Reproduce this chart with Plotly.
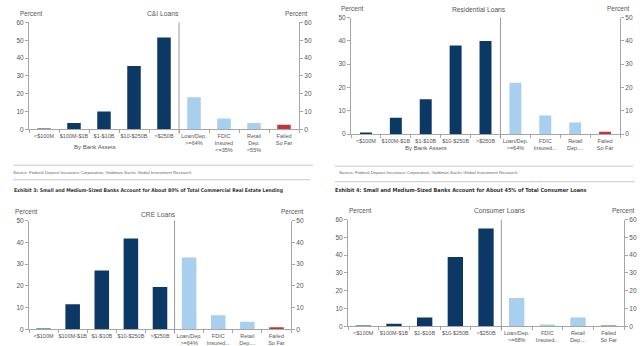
import plotly.graph_objects as go

W, H = 640, 346

def px(x):
    return x / W

def py(y):
    return 1 - y / H

# ---------------- data ----------------
size_cats = ["<$100M", "$100M-$1B", "$1-$10B", "$10-$250B", ">$250B"]
ci_labels = size_cats + ["Loan/Dep.<br>>=64%", "FDIC<br>Insured<br><=35%", "Retail<br>Dep.<br><55%", "Failed<br>So Far"]
res_labels = size_cats + ["Loan/Dep.<br>>=64%", "FDIC<br>Insured...", "Retail<br>Dep....", "Failed<br>So Far"]
cre_labels = size_cats + ["Loan/Dep.<br>>=64%", "FDIC<br>Insured...", "Retail<br>Dep....", "Failed<br>So Far"]
con_labels = size_cats + ["Loan/Dep.<br>>=68%", "FDIC<br>Insured...", "Retail<br>Dep....", "Failed<br>So Far"]

ci_values = [0.1, 3.5, 10, 35.5, 51.5, 18, 6, 3.5, 2.5]
res_values = [0.3, 7, 15, 38, 40, 22, 8, 5, 1]
cre_values = [0.2, 11.5, 27, 41.8, 19.5, 33, 6.5, 3.5, 1]
con_values = [0.2, 1.5, 5, 39, 55, 16, 1, 5, 0.1]

titles = ["C&I Loans", "Residential Loans", "CRE Loans", "Consumer Loans"]
y_max = [60, 50, 50, 60]
exhibit3 = "Exhibit 3: Small and Medium-Sized Banks Account for About 80% of Total Commercial Real Estate Lending"
exhibit4 = "Exhibit 4: Small and Medium-Sized Banks Account for About 45% of Total Consumer Loans"
source = "Source: Federal Deposit Insurance Corporation, Goldman Sachs Global Investment Research"

NAVY = "#0c3866"
LIGHT = "#a9cfee"
RED = "#c1363d"
colors = [NAVY] * 5 + [LIGHT] * 3 + [RED]

FONT = "Liberation Sans, Arial, sans-serif"
NARROW = "Liberation Sans Narrow, DejaVu Sans Condensed, Arial Narrow, Liberation Sans, sans-serif"
GREY = "#555555"
AXC = "#a6a6a6"

# panel geometry in pixels: (x0, x1, ytop, ybottom)
panels = [
    (29, 299, 19, 129),
    (351, 620, 14, 134),
    (29, 291, 223, 335),
    (348, 624, 222, 332),
]
title_pos = [
    ((31, 10), (163, 10), (296, 10)),
    ((352, 5), (479, 6), (618, 5)),
    ((26, 214), (158, 217), (292, 214)),
    ((360, 213), (500, 213), (623, 213)),
]
bar_widths = [0.45, 0.4, 0.5, 0.5]
data = [(ci_labels, ci_values), (res_labels, res_values), (cre_labels, cre_values), (con_labels, con_values)]

fig = go.Figure()
layout = dict(
    width=W, height=H, margin=dict(l=0, r=0, t=0, b=0),
    paper_bgcolor="white", plot_bgcolor="white", showlegend=False,
    font=dict(family=FONT, color=GREY, size=6),
)
shapes = []
annotations = []

for i, ((labels, vals), (x0, x1, yt, yb)) in enumerate(zip(data, panels)):
    n = i + 1
    xa = "x" if n == 1 else f"x{n}"
    yl_idx = 2 * i + 1
    yr_idx = 2 * i + 2
    yl = "y" if yl_idx == 1 else f"y{yl_idx}"
    yr = f"y{yr_idx}"
    fig.add_trace(go.Bar(x=labels, y=vals, marker=dict(color=colors, line=dict(width=0)),
                         width=bar_widths[i], xaxis=xa, yaxis=yl, hoverinfo="skip"))
    fig.add_trace(go.Scatter(x=labels, y=vals, mode="none", xaxis=xa, yaxis=yr, hoverinfo="skip"))
    dom_y = [py(yb), py(yt)]
    layout["xaxis" if n == 1 else f"xaxis{n}"] = dict(
        domain=[px(x0), px(x1)], anchor=yl, type="category", tickangle=0, color=GREY,
        showline=True, linecolor=AXC, linewidth=1, ticks="outside", tickson="boundaries",
        ticklen=3, tickcolor=AXC, tickfont=dict(size=5.5, color=GREY), showgrid=False,
        zeroline=False, fixedrange=True, ticklabelstandoff=1,
    )
    common_y = dict(
        domain=dom_y, range=[0, y_max[i]], dtick=10, showline=True, linecolor=AXC, linewidth=1,
        color=GREY, ticks="outside", ticklen=3, tickcolor=AXC, showgrid=False, zeroline=False,
        fixedrange=True,
    )
    layout["yaxis" if yl_idx == 1 else f"yaxis{yl_idx}"] = dict(
        common_y, anchor=xa, side="left", tickfont=dict(size=6.5, color=GREY))
    layout[f"yaxis{yr_idx}"] = dict(
        common_y, anchor=xa, side="right", overlaying=yl, tickfont=dict(size=6.5, color=GREY))
    # divider between bank size and other categories
    shapes.append(dict(type="line", xref=xa, yref=f"{yl} domain", x0=4.5, x1=4.5, y0=-0.04, y1=1.0,
                       line=dict(color="#9a9a9a", width=1)))
    (lp, tp, rp) = title_pos[i]
    annotations.append(dict(text="Percent", x=px(lp[0]), y=py(lp[1]), xref="paper", yref="paper",
                            showarrow=False, xanchor="center", yanchor="middle", font=dict(size=6.5, color=GREY)))
    annotations.append(dict(text="Percent", x=px(rp[0]), y=py(rp[1]), xref="paper", yref="paper",
                            showarrow=False, xanchor="center", yanchor="middle", font=dict(size=6.5, color=GREY)))
    annotations.append(dict(text=titles[i], x=px(tp[0]), y=py(tp[1]), xref="paper", yref="paper",
                            showarrow=False, xanchor="center", yanchor="middle", font=dict(size=6.7, color=GREY)))

# "By Bank Assets" labels
for (bx, by) in [(95, 147), (426, 148)]:
    annotations.append(dict(text="By Bank Assets", x=px(bx), y=py(by), xref="paper", yref="paper",
                            showarrow=False, xanchor="center", yanchor="middle", font=dict(size=6, color=GREY)))

# source notes
for sx in [11, 337]:
    annotations.append(dict(text=source, x=px(sx), y=py(173), xref="paper", yref="paper",
                            showarrow=False, xanchor="left", yanchor="middle", font=dict(size=4.3, color="#666666")))

# exhibit titles
annotations.append(dict(text="<b>" + exhibit3 + "</b>", x=px(12), y=py(192), xref="paper", yref="paper",
                        showarrow=False, xanchor="left", yanchor="middle",
                        font=dict(size=5.0, color="#333333", family=NARROW)))
annotations.append(dict(text="<b>" + exhibit4 + "</b>", x=px(333), y=py(192), xref="paper", yref="paper",
                        showarrow=False, xanchor="left", yanchor="middle",
                        font=dict(size=5.5, color="#333333", family=NARROW)))

# separator rules
for (lx0, lx1, ly) in [(13, 313, 166), (13, 310, 181), (335, 633, 167), (335, 635, 183)]:
    shapes.append(dict(type="line", xref="paper", yref="paper", x0=px(lx0), x1=px(lx1), y0=py(ly), y1=py(ly),
                       line=dict(color="#c8c8c8", width=1)))

layout["shapes"] = shapes
layout["annotations"] = annotations
fig.update_layout(**layout)
fig.write_html("out.html")
